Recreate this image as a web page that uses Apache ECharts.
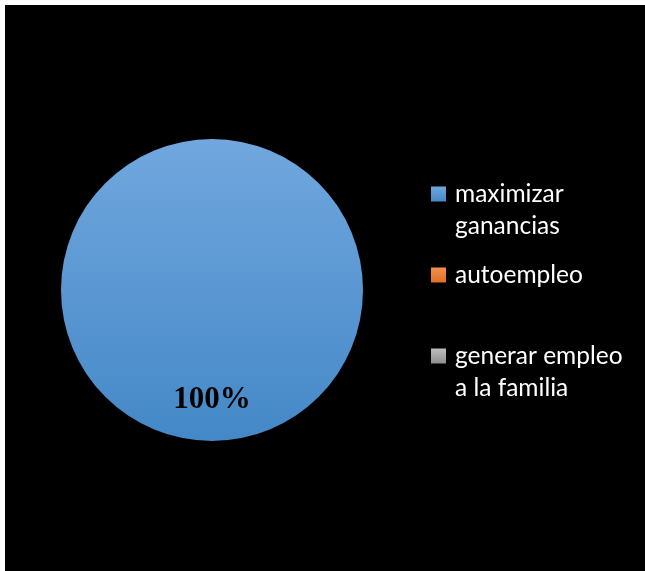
<!DOCTYPE html>
<html>
<head>
<meta charset="utf-8">
<script src="https://cdn.jsdelivr.net/npm/echarts@6/dist/echarts.min.js"></script>
<style>
  html, body { margin: 0; padding: 0; background: #ffffff; }
  #chart { position: absolute; left: 5px; top: 5px; width: 640px; height: 566px; }
</style>
</head>
<body>
<div id="chart"></div>
<script>
// Motivos para emprender: share of answers per category
const categories = ['maximizar ganancias', 'autoempleo', 'generar empleo a la familia'];
const legendLines = [['maximizar', 'ganancias'], ['autoempleo'], ['generar empleo', 'a la familia']];
const values = [100, 0, 0];

function vGrad(top, bottom) {
  return new echarts.graphic.LinearGradient(0, 0, 0, 1, [
    { offset: 0, color: top },
    { offset: 1, color: bottom }
  ]);
}
const fills = [
  vGrad('#71a7de', '#4488c7'),
  vGrad('#f59050', '#e06f22'),
  vGrad('#bdbdbd', '#8e8e8e')
];

const total = values.reduce((a, b) => a + b, 0);
const data = categories.map((name, i) => ({
  name: name,
  value: values[i],
  itemStyle: { color: fills[i] },
  label: { show: values[i] > 0 }
}));

const chart = echarts.init(document.getElementById('chart'), null, { renderer: 'canvas' });
chart.setOption({
  backgroundColor: '#000000',
  animation: false,
  legend: {
    orient: 'vertical',
    left: 426,
    top: 141,
    padding: 0,
    itemGap: 17,
    itemWidth: 15,
    itemHeight: 15,
    selectedMode: false,
    icon: 'rect',
    data: categories,
    formatter: function (name) {
      const lines = legendLines[categories.indexOf(name)];
      // keep the first line level with the colour square
      return lines.length > 1 ? '\n' + lines.join('\n') : lines[0];
    },
    textStyle: {
      color: '#ffffff',
      fontFamily: 'Lato',
      fontSize: 24.5,
      lineHeight: 32,
      padding: [0, 0, 0, 4]
    }
  },
  series: [{
    type: 'pie',
    center: [207, 285],
    radius: 151,
    startAngle: 90,
    clockwise: true,
    data: data,
    label: {
      position: 'inside',
      formatter: function (p) {
        return Math.round(p.value / total * 100) + '%';
      },
      color: '#000000',
      fontFamily: 'Liberation Serif',
      fontWeight: 'bold',
      fontSize: 31
    },
    labelLayout: { dy: 31 },
    labelLine: { show: false },
    emphasis: { disabled: true }
  }]
});
</script>
</body>
</html>
